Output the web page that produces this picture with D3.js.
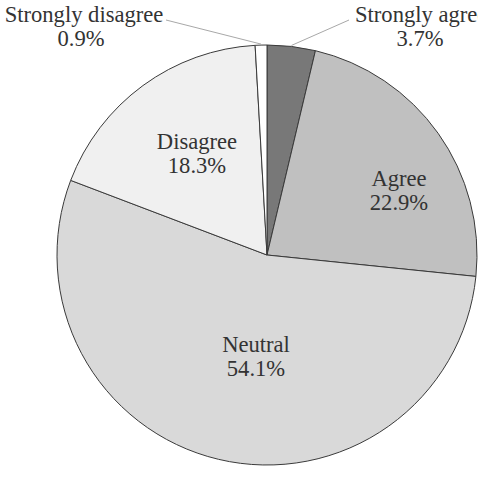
<!DOCTYPE html>
<html>
<head>
<meta charset="utf-8">
<script src="https://cdn.jsdelivr.net/npm/d3@7"></script>
<style>
	html, body { margin: 0; padding: 0; background: #fff; overflow: hidden; }
</style>
</head>
<body>
<svg id="chart" width="478" height="481"></svg>
<script>
const categories = ["Strongly agree", "Agree", "Neutral", "Disagree", "Strongly disagree"];
const shares = [3.7, 22.9, 54.1, 18.3, 0.9];
const fills = ["#787878", "#c0c0c0", "#d9d9d9", "#f0f0f0", "#ffffff"];

const svg = d3.select("#chart");
const cx = 267, cy = 255, radius = 210;
const fontStack = "'Liberation Serif', Tinos, 'Times New Roman', 'DejaVu Serif', serif";

// label placement, relative to the pie centre (name line baseline)
const labelAt = {
	"Strongly agree":    { x: 88,   y: -233, out: true, anchor: "start", pctX: 153 },
	"Agree":             { x: 132,  y: -69 },
	"Neutral":           { x: -11,  y: 97 },
	"Disagree":          { x: -70,  y: -106 },
	"Strongly disagree": { x: -183, y: -233, out: true, anchor: "middle", pctX: -186 }
};
const leaderEnd = { "Strongly agree": [82, -235], "Strongly disagree": [-101, -235] };

const rows = categories.map((c, i) => ({ name: c, value: shares[i], fill: fills[i] }));

const pie = d3.pie()
	.sort(null)
	.value(d => d.value);

const arc = d3.arc().innerRadius(0).outerRadius(radius);

const g = svg.append("g").attr("transform", `translate(${cx},${cy})`);
const arcs = pie(rows);

g.selectAll("path")
	.data(arcs)
	.enter()
	.append("path")
	.attr("d", arc)
	.attr("fill", d => d.data.fill)
	.attr("stroke", "#3a3a3a")
	.attr("stroke-width", 1);

// leader lines for the two thin slices
arcs.filter(d => labelAt[d.data.name].out).forEach(d => {
	const mid = (d.startAngle + d.endAngle) / 2;
	const ex = Math.sin(mid) * (radius + 1), ey = -Math.cos(mid) * (radius + 1);
	g.append("line")
		.attr("x1", ex).attr("y1", ey)
		.attr("x2", leaderEnd[d.data.name][0]).attr("y2", leaderEnd[d.data.name][1])
		.attr("stroke", "#a8a8a8")
		.attr("stroke-width", 1);
});

const labels = g.selectAll("text.lbl")
	.data(arcs)
	.enter()
	.append("text")
	.attr("class", "lbl")
	.attr("font-family", fontStack)
	.attr("font-size", 22.6)
	.attr("fill", "#333")
	.attr("transform", d => `translate(${labelAt[d.data.name].x},${labelAt[d.data.name].y})`);

labels.append("tspan")
	.attr("x", 0)
	.attr("text-anchor", d => labelAt[d.data.name].anchor || "middle")
	.text(d => d.data.name);

labels.append("tspan")
	.attr("x", d => {
		const p = labelAt[d.data.name];
		return p.pctX !== undefined ? p.pctX - p.x : 0;
	})
	.attr("dy", 24)
	.attr("text-anchor", "middle")
	.text(d => d.data.value.toFixed(1) + "%");
</script>
</body>
</html>
